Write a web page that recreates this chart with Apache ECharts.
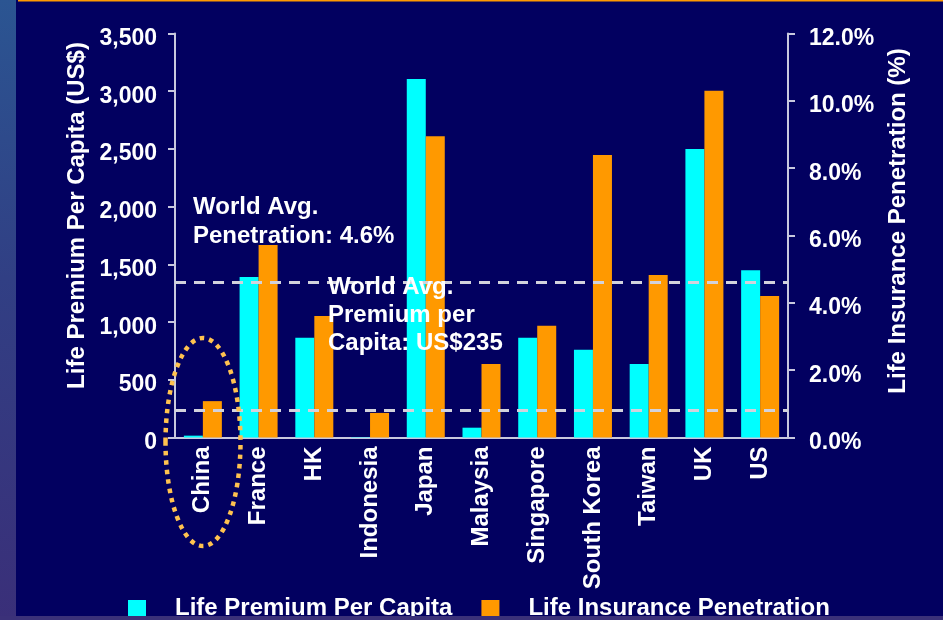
<!DOCTYPE html>
<html>
<head>
<meta charset="utf-8">
<title>Life Premium Per Capita vs Life Insurance Penetration</title>
<script src="https://cdn.jsdelivr.net/npm/echarts@6/dist/echarts.min.js"></script>
<style>
  html, body { margin: 0; padding: 0; background: #020060; }
  #chart { width: 943px; height: 620px; }
</style>
</head>
<body>
<div id="chart"></div>
<script>
// Markets shown on the category axis
const categories = ['China', 'France', 'HK', 'Indonesia', 'Japan', 'Malaysia',
  'Singapore', 'South Korea', 'Taiwan', 'UK', 'US'];

// Life premium per capita, US$
const premiumPerCapita = [16, 1390, 865, 3, 3105, 85, 865, 760, 637, 2500, 1450];

// Life insurance penetration, % of GDP
const penetrationPct = [1.08, 5.72, 3.61, 0.73, 8.95, 2.18, 3.32, 8.39, 4.83, 10.30, 4.20];

// World averages drawn as dashed reference lines
const worldAvgPenetration = 4.6;
const worldAvgPremium = 235;

// Axis ranges
const premiumAxis = { min: 0, max: 3500, interval: 500 };
const penetrationAxis = { min: 0, max: 12, interval: 2 };

const FONT = '"Liberation Sans", Arial, Helvetica, sans-serif';
const WHITE = '#FFFFFF';
const AXIS_COLOR = '#C8C8DE';
const CYAN = '#00FFFF';
const ORANGE = '#FF9900';

const chart = echarts.init(document.getElementById('chart'), null, { renderer: 'canvas' });

const refLine = {
  silent: true,
  symbol: 'none',
  label: { show: false },
  lineStyle: { color: '#D2D2DC', width: 3, type: [11, 8] },
  emphasis: { disabled: true }
};

// value-axis tick labels sit a little below their ticks
const valueLabel = {
  color: WHITE,
  fontSize: 23,
  fontWeight: 'bold',
  fontFamily: FONT,
  verticalAlign: 'top',
  lineHeight: 10.4
};

chart.setOption({
  backgroundColor: '#020060',
  animation: false,
  textStyle: { fontFamily: FONT },
  grid: { left: 175, right: 155, top: 33.5, bottom: 182.5, containLabel: false },
  legend: {
    left: 123,
    top: 591.5,
    icon: 'rect',
    itemWidth: 18,
    itemHeight: 17,
    itemGap: 29,
    selectedMode: false,
    textStyle: {
      color: WHITE, fontSize: 24, fontWeight: 'bold', fontFamily: FONT,
      lineHeight: 24, padding: [0, 0, 0, 24]
    },
    data: ['Life Premium Per Capita', 'Life Insurance Penetration']
  },
  xAxis: {
    type: 'category',
    data: categories,
    axisLine: { show: true, lineStyle: { color: AXIS_COLOR, width: 2 } },
    axisTick: { show: false },
    axisLabel: {
      rotate: 90,
      margin: 9,
      interval: 0,
      color: WHITE,
      fontSize: 24,
      fontWeight: 'bold',
      fontFamily: FONT
    },
    splitLine: { show: false }
  },
  yAxis: [
    {
      type: 'value',
      position: 'left',
      min: premiumAxis.min,
      max: premiumAxis.max,
      interval: premiumAxis.interval,
      axisLine: { show: true, lineStyle: { color: AXIS_COLOR, width: 2 } },
      axisTick: { show: true, length: 7, lineStyle: { color: AXIS_COLOR, width: 2 } },
      splitLine: { show: false },
      axisLabel: Object.assign({
        margin: 18,
        formatter: v => v.toLocaleString('en-US')
      }, valueLabel)
    },
    {
      type: 'value',
      position: 'right',
      min: penetrationAxis.min,
      max: penetrationAxis.max,
      interval: penetrationAxis.interval,
      axisLine: { show: true, lineStyle: { color: AXIS_COLOR, width: 2 } },
      axisTick: { show: true, length: 7, lineStyle: { color: AXIS_COLOR, width: 2 } },
      splitLine: { show: false },
      axisLabel: Object.assign({
        margin: 21,
        formatter: v => v.toFixed(1) + '%'
      }, valueLabel)
    }
  ],
  series: [
    {
      name: 'Life Premium Per Capita',
      type: 'bar',
      yAxisIndex: 0,
      data: premiumPerCapita,
      barWidth: 19,
      barGap: '0%',
      itemStyle: { color: CYAN },
      emphasis: { disabled: true },
      markLine: Object.assign({ data: [{ yAxis: worldAvgPremium }] }, refLine)
    },
    {
      name: 'Life Insurance Penetration',
      type: 'bar',
      yAxisIndex: 1,
      data: penetrationPct,
      barWidth: 19,
      barGap: '0%',
      itemStyle: { color: ORANGE },
      emphasis: { disabled: true },
      markLine: Object.assign({ data: [{ yAxis: worldAvgPenetration }] }, refLine)
    }
  ],
  graphic: [
    // left gradient strip of the slide frame
    {
      type: 'rect', z: 100, silent: true,
      shape: { x: 0, y: 0, width: 16, height: 620 },
      style: {
        fill: new echarts.graphic.LinearGradient(0, 0, 0, 1, [
          { offset: 0, color: '#2B5592' },
          { offset: 0.45, color: '#313F84' },
          { offset: 1, color: '#3A2F79' }
        ])
      }
    },
    // bottom strip of the slide frame
    {
      type: 'rect', z: 100, silent: true,
      shape: { x: 0, y: 616, width: 943, height: 4 },
      style: { fill: '#3B3179' }
    },
    // orange rule along the top edge
    {
      type: 'rect', z: 100, silent: true,
      shape: { x: 18, y: 0, width: 925, height: 1.5 },
      style: { fill: '#FF9900' }
    },
    // axis titles
    {
      type: 'text', z: 50, silent: true,
      x: 77, y: 215.5, rotation: Math.PI / 2,
      style: {
        text: 'Life Premium Per Capita (US$)',
        fill: WHITE, font: 'bold 24px ' + FONT,
        align: 'center', verticalAlign: 'middle'
      }
    },
    {
      type: 'text', z: 50, silent: true,
      x: 898, y: 221, rotation: Math.PI / 2,
      style: {
        text: 'Life Insurance Penetration (%)',
        fill: WHITE, font: 'bold 24px ' + FONT,
        align: 'center', verticalAlign: 'middle'
      }
    },
    // reference line notes
    {
      type: 'text', z: 50, silent: true,
      x: 193, y: 193,
      style: {
        text: 'World Avg.\nPenetration: 4.6%',
        fill: WHITE, font: 'bold 24px ' + FONT,
        lineHeight: 28.7, align: 'left', verticalAlign: 'top'
      }
    },
    {
      type: 'text', z: 50, silent: true,
      x: 328, y: 273.5,
      style: {
        text: 'World Avg.\nPremium per\nCapita: US$235',
        fill: WHITE, font: 'bold 24px ' + FONT,
        lineHeight: 27.8, align: 'left', verticalAlign: 'top'
      }
    },
    // dotted ring highlighting China
    {
      type: 'ellipse', z: 60, silent: true,
      shape: { cx: 203, cy: 442, rx: 37.5, ry: 104 },
      style: {
        fill: 'none',
        stroke: '#FFC24F',
        lineWidth: 4.5,
        lineDash: [4.5, 5],
        lineCap: 'butt'
      }
    }
  ]
});
</script>
</body>
</html>
